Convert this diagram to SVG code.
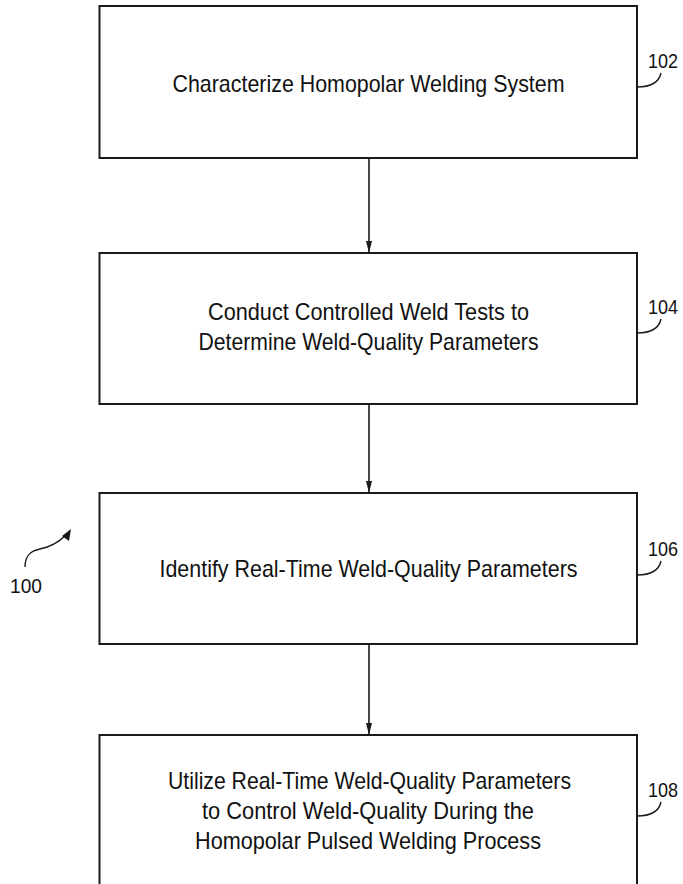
<svg xmlns="http://www.w3.org/2000/svg" width="683" height="884" viewBox="0 0 683 884">
  <defs>
    <style>
      .box { fill: #ffffff; stroke: #1a1a1a; stroke-width: 2; }
      .txt { font-family: "Liberation Sans", Arial, sans-serif; font-size: 24px; fill: #111111; text-anchor: middle; }
      .ref { font-family: "Liberation Sans", Arial, sans-serif; font-size: 21px; fill: #111111; }
      .lead { fill: none; stroke: #1a1a1a; stroke-width: 1.4; }
      .conn { fill: none; stroke: #1a1a1a; stroke-width: 1.6; }
    </style>
    <marker id="arr" markerWidth="12" markerHeight="8" refX="12" refY="4" orient="auto" markerUnits="userSpaceOnUse">
      <path d="M0,1 L12,4 L0,7 Z" fill="#1a1a1a"/>
    </marker>
  </defs>
  <rect width="683" height="884" fill="#ffffff"/>

  <g id="connectors">
    <line class="conn" x1="369" y1="158" x2="369" y2="253" marker-end="url(#arr)"/>
    <line class="conn" x1="369" y1="404" x2="369" y2="493" marker-end="url(#arr)"/>
    <line class="conn" x1="369" y1="644" x2="369" y2="735" marker-end="url(#arr)"/>
  </g>

  <g id="node-102">
    <rect class="box" x="99.5" y="6" width="537.5" height="152"/>
    <text class="txt" x="368.5" y="91.5" textLength="392" lengthAdjust="spacingAndGlyphs">Characterize Homopolar Welding System</text>
    <path class="lead" d="M637,87 Q658,87 661,73"/>
    <text class="ref" x="648" y="68" textLength="30" lengthAdjust="spacingAndGlyphs">102</text>
  </g>

  <g id="node-104">
    <rect class="box" x="99.5" y="253" width="537.5" height="151"/>
    <text class="txt" x="368.5" y="320" textLength="321" lengthAdjust="spacingAndGlyphs">Conduct Controlled Weld Tests to</text>
    <text class="txt" x="368.5" y="350" textLength="340" lengthAdjust="spacingAndGlyphs">Determine Weld-Quality Parameters</text>
    <path class="lead" d="M637,333 Q658,333 661,319"/>
    <text class="ref" x="648" y="314" textLength="30" lengthAdjust="spacingAndGlyphs">104</text>
  </g>

  <g id="node-106">
    <rect class="box" x="99.5" y="493" width="537.5" height="151"/>
    <text class="txt" x="368.5" y="577" textLength="418" lengthAdjust="spacingAndGlyphs">Identify Real-Time Weld-Quality Parameters</text>
    <path class="lead" d="M637,575 Q658,575 661,561"/>
    <text class="ref" x="648" y="556" textLength="30" lengthAdjust="spacingAndGlyphs">106</text>
  </g>

  <g id="node-108">
    <rect class="box" x="99.5" y="735" width="537.5" height="160"/>
    <text class="txt" x="369.5" y="789" textLength="403" lengthAdjust="spacingAndGlyphs">Utilize Real-Time Weld-Quality Parameters</text>
    <text class="txt" x="368" y="819" textLength="332" lengthAdjust="spacingAndGlyphs">to Control Weld-Quality During the</text>
    <text class="txt" x="368" y="849" textLength="346" lengthAdjust="spacingAndGlyphs">Homopolar Pulsed Welding Process</text>
    <path class="lead" d="M637,816 Q658,816 661,802"/>
    <text class="ref" x="648" y="797" textLength="30" lengthAdjust="spacingAndGlyphs">108</text>
  </g>

  <g id="label-100">
    <path class="lead" d="M25,567 C25,556 30,551 40,549 C50,547 58,543 66,535"/>
    <path d="M71,529 L69,541 L62,536 Z" fill="#1a1a1a"/>
    <text class="ref" x="10" y="593" textLength="32" lengthAdjust="spacingAndGlyphs">100</text>
  </g>
</svg>
